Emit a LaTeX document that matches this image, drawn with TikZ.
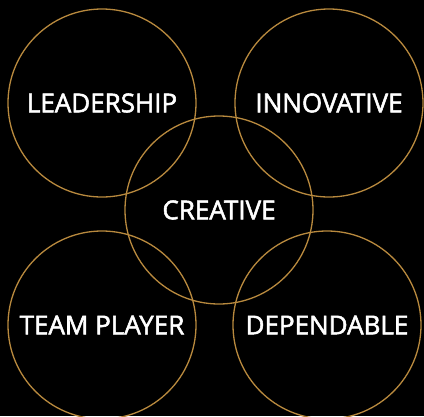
\documentclass[tikz,border=0pt]{standalone}
\usepackage{fontspec}
\setmainfont{Open Sans}
\newfontfamily\labelfont{Open Sans}[FakeBold=2]
\definecolor{gold}{RGB}{184,137,62}
\begin{document}
\begin{tikzpicture}[x=1pt,y=-1pt,
  ring/.style={circle,draw=gold,line width=1.3pt,minimum size=188pt,inner sep=0pt,
    text=white,font=\labelfont\fontsize{26}{30}\selectfont}]
\fill[black] (0,0) rectangle (424,416);
\useasboundingbox (0,0) rectangle (424,416);
\node[ring] (lead) at (102,103) {LEADERSHIP};
\node[ring] (innov) at (329,103) {INNOVATIVE};
\node[ring] (team) at (102,325) {TEAM PLAYER};
\node[ring] (dep) at (327,325) {DEPENDABLE};
\node[ring] (creat) at (219,210) {CREATIVE};
\end{tikzpicture}
\end{document}
